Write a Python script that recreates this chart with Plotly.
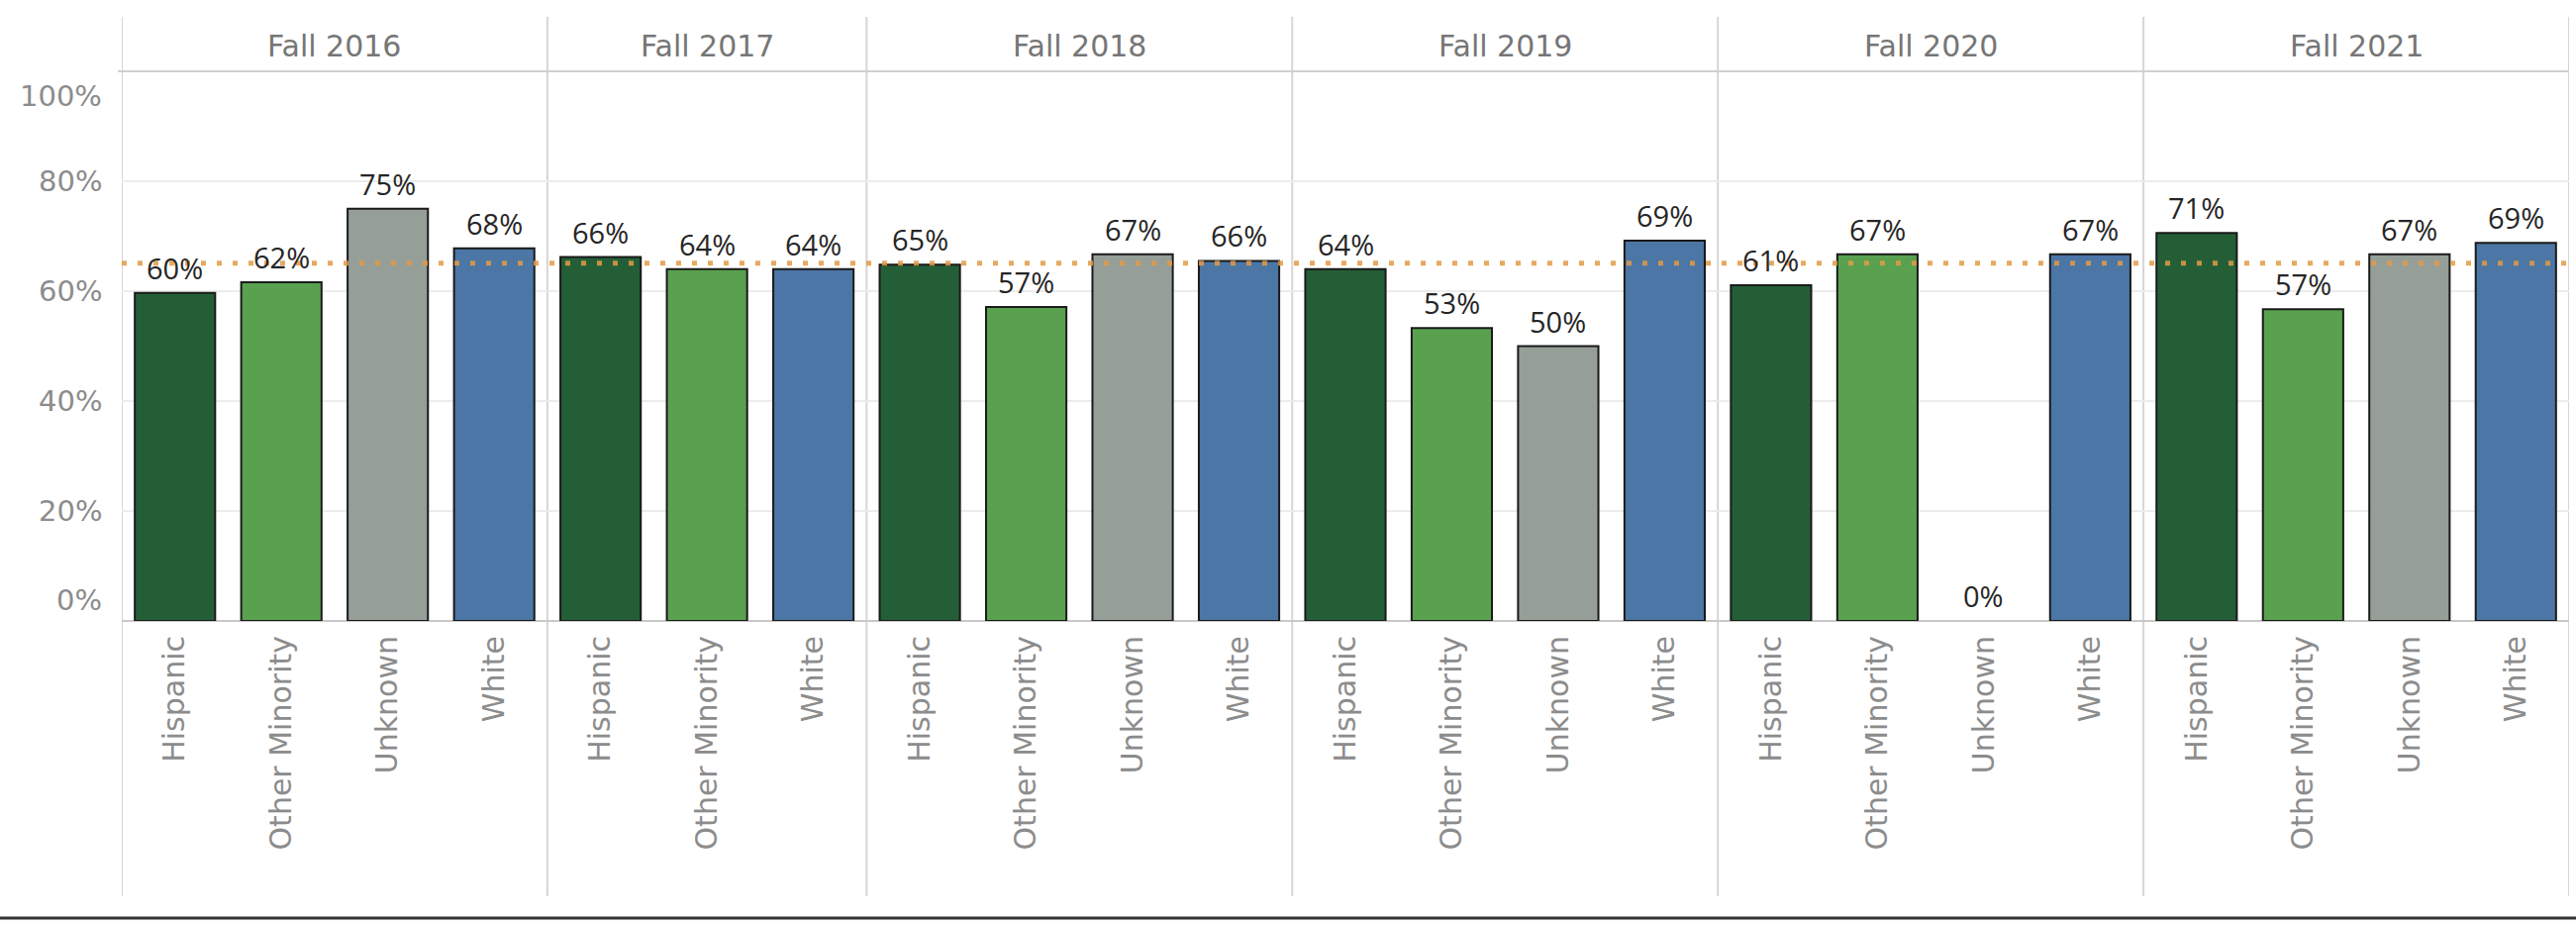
import plotly.graph_objects as go

# ---------------- data ----------------
terms = ["Fall 2016", "Fall 2017", "Fall 2018", "Fall 2019", "Fall 2020", "Fall 2021"]
ethnicities_2016 = ["Hispanic", "Other Minority", "Unknown", "White"]
ethnicities_2017 = ["Hispanic", "Other Minority", "White"]
ethnicities_2018 = ["Hispanic", "Other Minority", "Unknown", "White"]
ethnicities_2019 = ["Hispanic", "Other Minority", "Unknown", "White"]
ethnicities_2020 = ["Hispanic", "Other Minority", "Unknown", "White"]
ethnicities_2021 = ["Hispanic", "Other Minority", "Unknown", "White"]
rates_2016 = [0.597, 0.616, 0.750, 0.678]
rates_2017 = [0.662, 0.640, 0.640]
rates_2018 = [0.648, 0.571, 0.667, 0.655]
rates_2019 = [0.640, 0.533, 0.500, 0.692]
rates_2020 = [0.611, 0.667, 0.000, 0.667]
rates_2021 = [0.706, 0.567, 0.667, 0.688]
reference_rate = 0.651

ethnicities_by_term = [ethnicities_2016, ethnicities_2017, ethnicities_2018,
                       ethnicities_2019, ethnicities_2020, ethnicities_2021]
rates_by_term = [rates_2016, rates_2017, rates_2018, rates_2019, rates_2020, rates_2021]

colors = {"Hispanic": "#245E37", "Other Minority": "#59A14F",
          "Unknown": "#959F98", "White": "#4B76A5"}

# ---------------- geometry (pixels) ----------------
W, H = 2602, 934
PLOT_LEFT, PLOT_RIGHT = 123, 2595
PLOT_TOP, PLOT_BOTTOM = 72, 627
PW = PLOT_RIGHT - PLOT_LEFT
PH = PLOT_BOTTOM - PLOT_TOP


def py(pix):
    return (PLOT_BOTTOM - pix) / PH


def px(pix):
    return (pix - PLOT_LEFT) / PW


# flatten
xs, labels, vals, bar_colors = [], [], [], []
boundaries = [-0.5]
centers = []
pos = 0
for eths, rs in zip(ethnicities_by_term, rates_by_term):
    start = pos
    for e, r in zip(eths, rs):
        xs.append(pos)
        labels.append(e)
        vals.append(r)
        bar_colors.append(colors[e])
        pos += 1
    boundaries.append(pos - 0.5)
    centers.append((start + pos - 1) / 2)

line_widths = [2 if v > 0 else 0 for v in vals]

fig = go.Figure()
fig.add_trace(go.Bar(
    x=xs, y=vals,
    marker=dict(color=bar_colors, line=dict(color="#1a1a1a", width=line_widths)),
    hoverinfo="skip",
))

shapes = []
# vertical panel separators
for b in boundaries:
    shapes.append(dict(type="line", xref="x", yref="paper", x0=b, x1=b,
                       y0=py(905), y1=py(17), line=dict(color="#d6d6d6", width=2),
                       layer="below"))
# header bottom line
shapes.append(dict(type="line", xref="paper", yref="paper", x0=px(119), x1=1,
                   y0=1, y1=1, line=dict(color="#d0d0d0", width=2), layer="below"))
# reference line
shapes.append(dict(type="line", xref="paper", yref="y", x0=0, x1=1,
                   y0=reference_rate, y1=reference_rate,
                   line=dict(color="#E59A45", width=5, dash="5px,11px"),
                   opacity=0.85, layer="above"))
# bottom dark border
shapes.append(dict(type="line", xref="paper", yref="paper", x0=px(0), x1=px(W),
                   y0=py(927), y1=py(927), line=dict(color="#333333", width=3),
                   layer="above"))

annotations = []
# header labels
for t, c in zip(terms, centers):
    annotations.append(dict(x=c, y=py(46), xref="x", yref="paper", text=t,
                            showarrow=False, xanchor="center", yanchor="middle",
                            font=dict(family="DejaVu Sans", size=30, color="#767676")))
# value labels
for x, v in zip(xs, vals):
    annotations.append(dict(x=x, y=v, xref="x", yref="y", text=f"{round(v*100)}%",
                            showarrow=False, xanchor="center", yanchor="bottom",
                            yshift=4,
                            font=dict(family="Open Sans", size=29, color="#262626")))
# y tick labels (Tableau shifts end labels inward)
y_ticks = [0, 0.2, 0.4, 0.6, 0.8, 1.0]
for t in y_ticks:
    shift = 0
    if t == 1.0:
        shift = -25
    elif t == 0:
        shift = 21
    annotations.append(dict(x=0, y=t, xref="paper", yref="y", text=f"{round(t*100)}%",
                            showarrow=False, xanchor="right", yanchor="middle",
                            xshift=-18, yshift=shift,
                            font=dict(family="DejaVu Sans", size=29, color="#8c8c8c")))

fig.update_layout(
    width=W, height=H,
    margin=dict(l=PLOT_LEFT, r=W - PLOT_RIGHT, t=PLOT_TOP, b=H - PLOT_BOTTOM, pad=0),
    paper_bgcolor="white", plot_bgcolor="white",
    showlegend=False,
    bargap=0.245,
    shapes=shapes,
    annotations=annotations,
    xaxis=dict(range=[-0.5, len(xs) - 0.5], tickmode="array", tickvals=xs,
               ticktext=labels, tickangle=-90, showgrid=False, zeroline=False,
               showline=False, ticks="", ticklabelstandoff=8,
               tickfont=dict(family="DejaVu Sans", size=30, color="#8c8c8c"),
               fixedrange=True),
    yaxis=dict(range=[0, 1], tickmode="array", tickvals=y_ticks, showticklabels=False,
               showgrid=True, gridcolor="#ececec", gridwidth=1.5,
               zeroline=True, zerolinecolor="#c8c8c8", zerolinewidth=2,
               showline=False, fixedrange=True),
)

fig.write_html("out.html",
               config={"displayModeBar": False},
               post_script="document.body.style.margin='0px';document.body.style.overflow='hidden';")
